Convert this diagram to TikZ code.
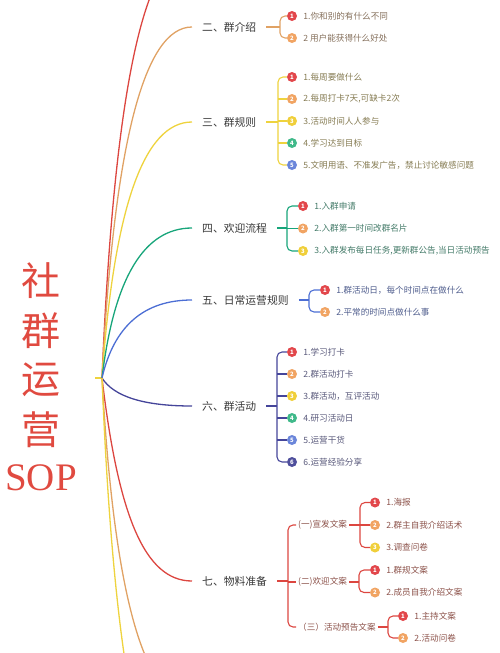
\documentclass[tikz,border=0pt]{standalone}
\usepackage{fontspec}
\setmainfont{Noto Sans CJK SC}
\newfontfamily\sopfont{Liberation Serif}
\usetikzlibrary{positioning, calc}
\definecolor{cred}{HTML}{DC4640}
\definecolor{ctan}{HTML}{E0A264}
\definecolor{cyellow}{HTML}{EED33E}
\definecolor{cgreen}{HTML}{17A57A}
\definecolor{cblue}{HTML}{4C6ED4}
\definecolor{cindigo}{HTML}{45459A}
\definecolor{ctitle}{HTML}{E04A40}
\definecolor{clabel}{HTML}{383838}
\definecolor{b1}{HTML}{E2474B}
\definecolor{b2}{HTML}{F1A463}
\definecolor{b3}{HTML}{F0CF3A}
\definecolor{b4}{HTML}{40B98A}
\definecolor{b5}{HTML}{6B86DA}
\definecolor{b6}{HTML}{4F4F9C}
\definecolor{t2}{HTML}{85705C}
\definecolor{t3}{HTML}{857B52}
\definecolor{t4}{HTML}{437A68}
\definecolor{t5}{HTML}{4E5C8C}
\definecolor{t6}{HTML}{58587A}
\definecolor{t7}{HTML}{8C524A}
\tikzset{
  branch/.style={draw=#1, line width=1.3pt},
  brace/.style={draw=#1, line width=1.1pt, rounded corners=5pt},
  section/.style={anchor=west, inner xsep=10pt, inner ysep=2pt, text=clabel, font=\fontsize{10.8}{13}\selectfont},
  subsec/.style={anchor=west, inner sep=2pt, text=#1, font=\fontsize{8.6}{10}\selectfont},
  item/.style={inner sep=1pt, text=#1, font=\fontsize{8.6}{10}\selectfont},
  badge/.style={circle, fill=#1, text=white, inner sep=0pt, minimum size=10pt, font=\fontsize{6}{6}\selectfont\bfseries},
  titlechar/.style={text=ctitle, font=\fontsize{39}{40}\selectfont},
}

\begin{document}
\begin{tikzpicture}[x=1pt, y=-1pt]
  \useasboundingbox (0,0) rectangle (500,653);
  \clip (0,0) rectangle (500,653);
  % title
  \node[titlechar] (t1) at (41,281) {社};
  \node[titlechar] (t2) at (41,331) {群};
  \node[titlechar] (t3) at (41,380) {运};
  \node[titlechar] (t4) at (41,430) {营};
  \node[titlechar] (t5) at (41,478) {\sopfont SOP};
  % sections
  \coordinate (root) at (102,378);
  \coordinate (stub) at (95,378);
  \coordinate (s1) at (192,-50);
  \node[section] (s2) at (192,27) {二、群介绍};
  \node[section] (s3) at (192,122) {三、群规则};
  \node[section] (s4) at (192,228) {四、欢迎流程};
  \node[section] (s5) at (192,300) {五、日常运营规则};
  \node[section] (s6) at (192,406) {六、群活动};
  \node[section] (s7) at (192,581) {七、物料准备};
  \coordinate (s8) at (192,702);
  \coordinate (s9) at (192,820);
  \draw[branch=cyellow] (stub) -- (root);
  \draw[branch=cred] (root) .. controls (114,92.7) and (144,-50) .. (s1);
  \draw[branch=ctan] (root) .. controls (114,144) and (144,27) .. (s2.west);
  \draw[branch=cyellow] (root) .. controls (114,207.3) and (144,122) .. (s3.west);
  \draw[branch=cgreen] (root) .. controls (114,278) and (144,228) .. (s4.west);
  \draw[branch=cblue] (root) .. controls (114,326) and (144,300) .. (s5.west);
  \draw[branch=cindigo] (root) .. controls (114,396.7) and (144,406) .. (s6.west);
  \draw[branch=cred] (root) .. controls (118,513.3) and (144,581) .. (s7.west);
  \draw[branch=ctan] (root) .. controls (114,594) and (144,702) .. (s8);
  \draw[branch=cyellow] (root) .. controls (114,672.7) and (144,820) .. (s9);

  % 二
  \coordinate (g2) at (280,27);
  \foreach \t [count=\i] in {1.你和别的有什么不同, 2 用户能获得什么好处} {
    \node[badge=b\i] (g2b\i) at (292,{-6+22*\i}) {\i};
    \node[item=t2, right=5pt of g2b\i] (g2t\i) {\t};
  }
  \draw[brace=ctan] (s2.east) -- (g2);
  \draw[brace=ctan] (g2b1.west) -| (g2) |- (g2b2.west);

  % 三
  \coordinate (g3) at (278,122);
  \foreach \t [count=\i] in {1.每周要做什么, {2.每周打卡7天,可缺卡2次}, 3.活动时间人人参与, 4.学习达到目标, 5.文明用语、不准发广告，禁止讨论敏感问题} {
    \node[badge=b\i] (g3b\i) at (292,{55+22*\i}) {\i};
    \node[item=t3, right=5pt of g3b\i] (g3t\i) {\t};
  }
  \draw[brace=cyellow] (s3.east) -- (g3);
  \draw[brace=cyellow] (g3b1.west) -| (g3) |- (g3b5.west);
  \foreach \i in {2,3,4} \draw[brace=cyellow] (g3 |- g3b\i) -- (g3b\i.west);

  % 四
  \coordinate (g4) at (287,228);
  \foreach \t [count=\i] in {1.入群申请, 2.入群第一时间改群名片, {3.入群发布每日任务,更新群公告,当日活动预告}} {
    \node[badge=b\i] (g4b\i) at (303,{183.5+22.5*\i}) {\i};
    \node[item=t4, right=5pt of g4b\i] (g4t\i) {\t};
  }
  \draw[brace=cgreen] (s4.east) -- (g4);
  \draw[brace=cgreen] (g4b1.west) -| (g4) |- (g4b3.west);
  \draw[brace=cgreen] (g4 |- g4b2) -- (g4b2.west);

  % 五
  \coordinate (g5) at (309,300);
  \foreach \t [count=\i] in {1.群活动日，每个时间点在做什么, 2.平常的时间点做什么事} {
    \node[badge=b\i] (g5b\i) at (325,{268+22*\i}) {\i};
    \node[item=t5, right=5pt of g5b\i] (g5t\i) {\t};
  }
  \draw[brace=cblue] (s5.east) -- (g5);
  \draw[brace=cblue] (g5b1.west) -| (g5) |- (g5b2.west);

  % 六
  \coordinate (g6) at (277,406);
  \foreach \t [count=\i] in {1.学习打卡, 2.群活动打卡, 3.群活动，互评活动, 4.研习活动日, 5.运营干货, 6.运营经验分享} {
    \node[badge=b\i] (g6b\i) at (292,{330+22*\i}) {\i};
    \node[item=t6, right=5pt of g6b\i] (g6t\i) {\t};
  }
  \draw[brace=cindigo] (s6.east) -- (g6);
  \draw[brace=cindigo] (g6b1.west) -| (g6) |- (g6b6.west);
  \foreach \i in {2,...,5} \draw[brace=cindigo] (g6 |- g6b\i) -- (g6b\i.west);

  % 七
  \coordinate (g7) at (288,581);
  \node[subsec=t7] (s7a) at (296,525) {(一)宣发文案};
  \node[subsec=t7] (s7b) at (296,582) {(二)欢迎文案};
  \node[subsec=t7] (s7c) at (296,627) {（三）活动预告文案};
  \draw[brace=cred] (s7.east) -- (g7);
  \draw[brace=cred] (s7a.west) -| (g7) |- (s7c.west);
  \draw[brace=cred] (g7 |- s7b) -- (s7b.west);

  \coordinate (g7a) at (360,525);
  \foreach \t [count=\i] in {1.海报, 2.群主自我介绍话术, 3.调查问卷} {
    \node[badge=b\i] (g7ab\i) at (375,{480+22.5*\i}) {\i};
    \node[item=t7, right=5pt of g7ab\i] (g7at\i) {\t};
  }
  \draw[brace=cred] (s7a.east) -- (g7a);
  \draw[brace=cred] (g7ab1.west) -| (g7a) |- (g7ab3.west);
  \draw[brace=cred] (g7a |- g7ab2) -- (g7ab2.west);

  \coordinate (g7b) at (359,582);
  \foreach \t [count=\i] in {1.群规文案, 2.成员自我介绍文案} {
    \node[badge=b\i] (g7bb\i) at (375,{547.5+22.5*\i}) {\i};
    \node[item=t7, right=5pt of g7bb\i] (g7bt\i) {\t};
  }
  \draw[brace=cred] (s7b.east) -- (g7b);
  \draw[brace=cred] (g7bb1.west) -| (g7b) |- (g7bb2.west);

  \coordinate (g7c) at (388,627);
  \foreach \t [count=\i] in {1.主持文案, 2.活动问卷} {
    \node[badge=b\i] (g7cb\i) at (403,{594+22*\i}) {\i};
    \node[item=t7, right=5pt of g7cb\i] (g7ct\i) {\t};
  }
  \draw[brace=cred] (s7c.east) -- (g7c);
  \draw[brace=cred] (g7cb1.west) -| (g7c) |- (g7cb2.west);
\end{tikzpicture}
\end{document}
